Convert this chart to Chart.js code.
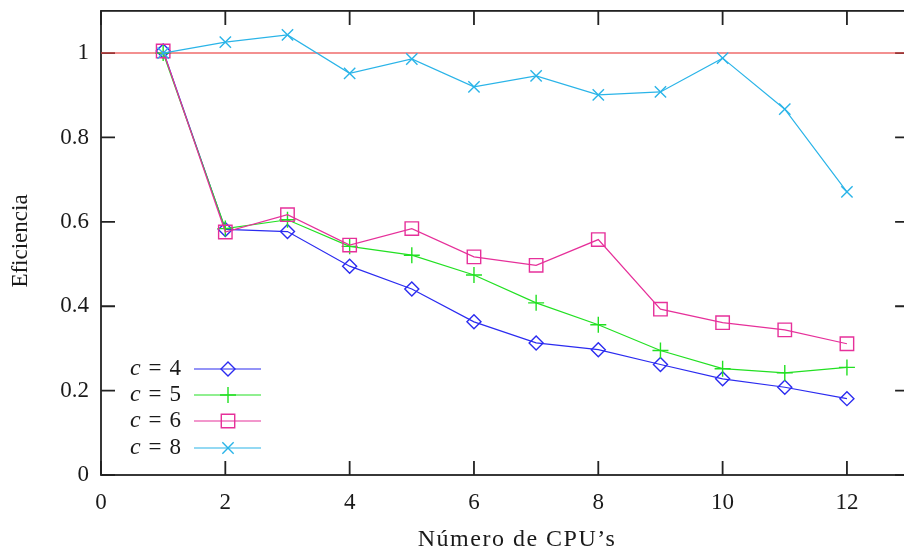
<!DOCTYPE html>
<html>
<head>
<meta charset="utf-8">
<title>Eficiencia</title>
<script src="https://cdn.jsdelivr.net/npm/chart.js@4.4.0/dist/chart.umd.min.js"></script>
<style>
    html, body { margin: 0; padding: 0; overflow: hidden; background: #fff; }
    #wrap { width: 920px; height: 554px; }
</style>
</head>
<body>
<div id="wrap"><canvas id="efChart" width="920" height="554"></canvas></div>
<script>
// Eficiencia por número de CPUs, para cada valor de c
var cpus = [1, 2, 3, 4, 5, 6, 7, 8, 9, 10, 11, 12];
var ef4 = [1.005, 0.582, 0.577, 0.495, 0.441, 0.363, 0.313, 0.297, 0.262, 0.228, 0.208, 0.181];
var ef5 = [1.0, 0.584, 0.605, 0.542, 0.521, 0.474, 0.408, 0.356, 0.295, 0.252, 0.242, 0.255];
var ef6 = [1.005, 0.576, 0.617, 0.545, 0.584, 0.517, 0.497, 0.558, 0.393, 0.361, 0.344, 0.311];
var ef8 = [1.0, 1.026, 1.043, 0.952, 0.986, 0.920, 0.946, 0.901, 0.908, 0.988, 0.867, 0.671];
var seriesLabels = ['4', '5', '6', '8'];
var xTicks = [0, 2, 4, 6, 8, 10, 12];
var yTicks = [0, 0.2, 0.4, 0.6, 0.8, 1];
var refLevel = 1;

function pares(valores) {
    return cpus.map(function (c, i) { return { x: c, y: valores[i] }; });
}

Chart.defaults.font.family = "'Liberation Serif', 'DejaVu Serif', serif";
Chart.defaults.font.size = 23;
Chart.defaults.color = '#1a1a1a';

// marco con marcas hacia dentro en los cuatro lados
var marcoPlugin = {
    id: 'marco',
    beforeDatasetsDraw: function (chart) {
        var a = chart.chartArea, ctx = chart.ctx;
        var xs = chart.scales.x, ys = chart.scales.y;
        var tl = 14;
        ctx.save();
        ctx.strokeStyle = '#222';
        ctx.lineWidth = 1.8;
        ctx.strokeRect(a.left, a.top, a.right - a.left, a.bottom - a.top);
        ctx.beginPath();
        xs.ticks.forEach(function (t) {
            var px = xs.getPixelForValue(t.value);
            ctx.moveTo(px, a.bottom); ctx.lineTo(px, a.bottom - tl);
            ctx.moveTo(px, a.top); ctx.lineTo(px, a.top + tl);
        });
        ys.ticks.forEach(function (t) {
            var py = ys.getPixelForValue(t.value);
            ctx.moveTo(a.left, py); ctx.lineTo(a.left + tl, py);
            ctx.moveTo(a.right, py); ctx.lineTo(a.right - tl, py);
        });
        ctx.stroke();
        ctx.restore();
    }
};

// títulos de los ejes
var titulosPlugin = {
    id: 'titulos',
    afterDraw: function (chart) {
        var ctx = chart.ctx;
        ctx.save();
        ctx.fillStyle = '#1a1a1a';
        ctx.textAlign = 'center';
        ctx.textBaseline = 'middle';
        ctx.font = "24px 'Liberation Serif', serif";
        ctx.letterSpacing = '1.5px';
        ctx.fillText('Número de CPU’s', 517, 540);
        ctx.letterSpacing = '0px';
        ctx.font = "23px 'Liberation Serif', serif";
        ctx.translate(21, 241);
        ctx.rotate(-Math.PI / 2);
        ctx.fillText('Eficiencia', 0, 0);
        ctx.restore();
    }
};

// leyenda dentro del área del gráfico, abajo a la izquierda
var leyendaPlugin = {
    id: 'leyenda',
    afterDatasetsDraw: function (chart) {
        var ctx = chart.ctx;
        var rowY = [369, 395, 421, 448];
        var textRight = 181, lineL = 194, lineR = 261, markX = 228;
        ctx.save();
        chart.data.datasets.forEach(function (ds) {
            if (ds.legendRow === undefined) return;
            var y = rowY[ds.legendRow];
            ctx.fillStyle = '#1a1a1a';
            ctx.textBaseline = 'middle';
            ctx.textAlign = 'left';
            ctx.font = "23px 'Liberation Serif', serif";
            var numW = ctx.measureText(ds.cValue).width;
            var eqW = ctx.measureText('=').width;
            ctx.font = "italic 24px 'Liberation Serif', serif";
            var cW = ctx.measureText('c').width;
            var gap = 8;
            var x0 = textRight - numW - gap - eqW - gap - cW;
            ctx.fillText('c', x0, y);
            ctx.font = "23px 'Liberation Serif', serif";
            ctx.fillText('=', x0 + cW + gap, y);
            ctx.fillText(ds.cValue, x0 + cW + gap + eqW + gap, y);

            ctx.strokeStyle = ds.borderColor;
            ctx.lineWidth = ds.borderWidth;
            ctx.beginPath();
            ctx.moveTo(lineL, y);
            ctx.lineTo(lineR, y);
            ctx.stroke();

            ctx.fillStyle = 'rgba(0,0,0,0)';
            ctx.lineWidth = ds.pointBorderWidth;
            Chart.helpers.drawPoint(ctx, {
                pointStyle: ds.pointStyle,
                radius: ds.pointRadius,
                rotation: 0,
                borderWidth: ds.pointBorderWidth
            }, markX, y);
        });
        ctx.restore();
    }
};

function serie(idx, valores, color, estilo, radio) {
    return {
        label: 'c = ' + seriesLabels[idx],
        cValue: seriesLabels[idx],
        legendRow: idx,
        data: pares(valores),
        borderColor: color,
        borderWidth: 1.2,
        pointStyle: estilo,
        pointRadius: radio,
        pointHoverRadius: radio,
        pointBorderColor: color,
        pointBackgroundColor: 'rgba(0,0,0,0)',
        pointBorderWidth: 1.4,
        tension: 0,
        fill: false,
        order: 10 - idx
    };
}

document.addEventListener('DOMContentLoaded', function () {
    var ctx = document.getElementById('efChart').getContext('2d');
    new Chart(ctx, {
        type: 'line',
        data: {
            datasets: [
                serie(0, ef4, '#2b2bf0', 'rectRot', 7),
                serie(1, ef5, '#22e022', 'cross', 8),
                serie(2, ef6, '#e6309a', 'rect', 9.5),
                serie(3, ef8, '#2ab4e8', 'crossRot', 8),
                {
                    label: 'referencia',
                    data: [{ x: 0, y: refLevel }, { x: 13, y: refLevel }],
                    borderColor: 'rgba(236,70,70,0.8)',
                    borderWidth: 1.5,
                    pointRadius: 0,
                    pointHoverRadius: 0,
                    tension: 0,
                    fill: false,
                    order: 20
                }
            ]
        },
        options: {
            responsive: false,
            animation: false,
            devicePixelRatio: 1,
            layout: {
                padding: { top: 9, right: 9, left: 0, bottom: 0 }
            },
            scales: {
                x: {
                    type: 'linear',
                    min: 0,
                    max: 13,
                    grid: { display: false, drawTicks: false },
                    border: { display: false },
                    ticks: { padding: 14, maxRotation: 0 },
                    afterBuildTicks: function (scale) {
                        scale.ticks = xTicks.map(function (v) { return { value: v }; });
                    },
                    afterFit: function (scale) {
                        scale.height = 79;
                        scale.paddingLeft = 0;
                        scale.paddingRight = 0;
                    }
                },
                y: {
                    type: 'linear',
                    min: 0,
                    max: 1.1,
                    grid: { display: false, drawTicks: false },
                    border: { display: false },
                    ticks: {
                        padding: 12,
                        callback: function (v) { return String(Math.round(v * 10) / 10); }
                    },
                    afterBuildTicks: function (scale) {
                        scale.ticks = yTicks.map(function (v) { return { value: v }; });
                    },
                    afterFit: function (scale) {
                        scale.width = 101;
                        scale.paddingTop = 0;
                        scale.paddingBottom = 0;
                    }
                }
            },
            plugins: {
                legend: { display: false },
                tooltip: { enabled: false }
            }
        },
        plugins: [marcoPlugin, leyendaPlugin, titulosPlugin]
    });
});
</script>
</body>
</html>
